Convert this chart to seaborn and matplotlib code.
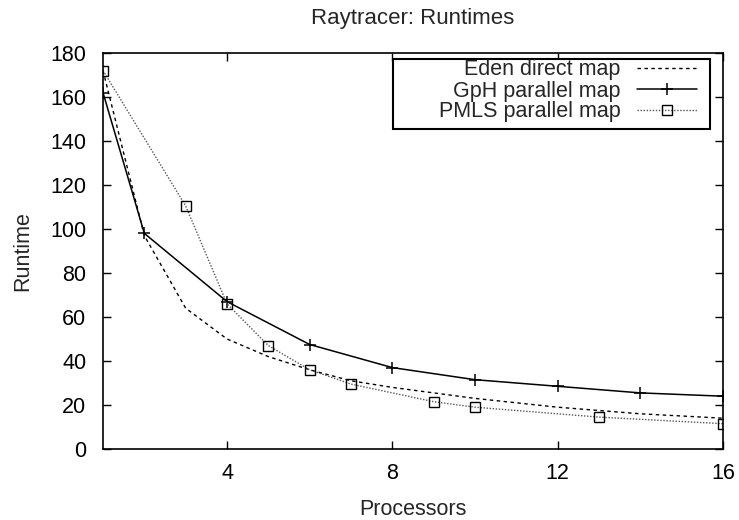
import matplotlib
matplotlib.use("Agg")
import matplotlib.pyplot as plt
from matplotlib.patches import Rectangle
import seaborn as sns
import pandas as pd

eden_x = [1, 2, 3, 4, 5, 6, 7, 8, 9, 10, 11, 12, 13, 14, 15, 16]
eden_y = [172, 97, 64, 50, 42, 36, 31, 28, 25.5, 23, 21, 19, 17.5, 16, 15, 14]
gph_x = [1, 2, 4, 6, 8, 10, 12, 14, 16]
gph_y = [162, 98, 67, 47.5, 37, 31.5, 28.5, 25.5, 24]
pmls_x = [1, 3, 4, 5, 6, 7, 9, 10, 13, 16]
pmls_y = [172, 110.5, 66, 47, 36, 29.5, 21.5, 19, 14.5, 11.5]
labels = ["Eden direct map", "GpH parallel map", "PMLS parallel map"]
xticks = [4, 8, 12, 16]
yticks = list(range(0, 181, 20))

sns.set_style("ticks")
plt.rcParams['font.family'] = ['Liberation Sans', 'DejaVu Sans']

W, H = 739, 520
L, R, T, B = 103, 723, 53, 449
fig = plt.figure(figsize=(W / 100, H / 100), dpi=100)
ax = fig.add_axes([L / W, 1 - B / H, (R - L) / W, (B - T) / H])

def ax_frac(px, py):
    return (px - L) / (R - L), (B - py) / (B - T)

sns.lineplot(x=eden_x, y=eden_y, ax=ax, color="black", linewidth=1.0,
             linestyle=(0, (2.5, 2.5)), label=labels[0])
sns.lineplot(x=gph_x, y=gph_y, ax=ax, color="black", linewidth=1.1,
             marker="+", markersize=9, markeredgewidth=1.1,
             markeredgecolor="black", markerfacecolor="black", label=labels[1])
sns.lineplot(x=pmls_x, y=pmls_y, ax=ax, color="#555555", linewidth=1.0,
             linestyle=(0, (1, 1.2)), marker="s", markersize=7,
             markerfacecolor="none", markeredgecolor="black", markeredgewidth=1.0,
             label=labels[2])

ax.set_xlim(1, 16)
ax.set_ylim(0, 180)
ax.set_xticks(xticks)
ax.set_yticks(yticks)
ax.tick_params(direction="in", top=True, right=True, length=6, width=1,
               labelsize=15.5, colors="black")
ax.tick_params(axis="x", pad=10)
ax.tick_params(axis="y", pad=12)
for s in ax.spines.values():
    s.set_linewidth(1.2)
    s.set_color("black")

ax.set_title("Raytracer: Runtimes", fontsize=16, pad=21)
ax.set_xlabel("Processors", fontsize=15.5, labelpad=11)
ax.set_ylabel("Runtime", fontsize=15.5, labelpad=12)

# legend frame (gnuplot-style key box)
x0, y0 = ax_frac(393, 129)
x1, y1 = ax_frac(710, 59)
ax.add_patch(Rectangle((x0, y0), x1 - x0, y1 - y0, transform=ax.transAxes,
                       facecolor="white", edgecolor="black", linewidth=1.5,
                       zorder=4))

leg = ax.legend(loc="upper right", markerfirst=False, fontsize=15.5,
                frameon=False, borderpad=0.0, labelspacing=0.0,
                handlelength=2.8, handletextpad=0.75, borderaxespad=0.0,
                bbox_to_anchor=ax_frac(697, 59.5))
leg.set_zorder(5)
for t in leg.get_texts():
    t.set_ha("right")

fig.savefig("out.png", dpi=100)
